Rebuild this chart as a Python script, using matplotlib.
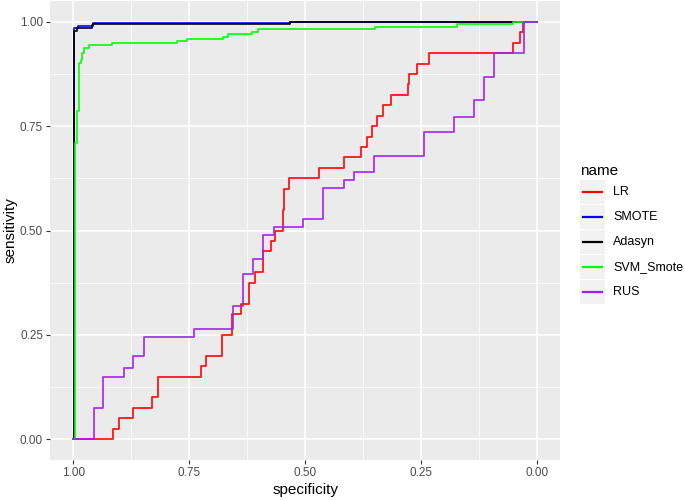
import matplotlib
matplotlib.use("Agg")
import matplotlib.pyplot as plt
from matplotlib.ticker import MultipleLocator
from matplotlib.patches import Rectangle
from matplotlib.lines import Line2D

plt.rcParams["font.family"] = ["Liberation Sans", "DejaVu Sans"]

# ROC curves (specificity, sensitivity), step "post"
lr_spec = [1.0, 0.914, 0.901, 0.871, 0.830, 0.817, 0.724, 0.713, 0.679, 0.657,
           0.638, 0.621, 0.608, 0.591, 0.573, 0.565, 0.547, 0.545, 0.534, 0.470,
           0.416, 0.379, 0.366, 0.356, 0.345, 0.332, 0.315, 0.278, 0.276, 0.259,
           0.233, 0.052, 0.037, 0.030, 0.0]
lr_sens = [0.0, 0.025, 0.05, 0.075, 0.1, 0.15, 0.175, 0.2, 0.25, 0.3,
           0.325, 0.375, 0.4, 0.45, 0.475, 0.5, 0.55, 0.6, 0.625, 0.65,
           0.675, 0.7, 0.725, 0.75, 0.775, 0.8, 0.825, 0.85, 0.875, 0.9,
           0.925, 0.95, 0.975, 1.0, 1.0]

smote_spec = [1.0, 0.998, 0.989, 0.957, 0.532, 0.0]
smote_sens = [0.0, 0.985, 0.990, 0.997, 1.0, 1.0]

adasyn_spec = [1.0, 0.998, 0.991, 0.959, 0.957, 0.532, 0.0]
adasyn_sens = [0.0, 0.978, 0.985, 0.993, 0.996, 1.0, 1.0]

svm_spec = [1.0, 0.997, 0.991, 0.987, 0.983, 0.981, 0.976, 0.966, 0.916, 0.776,
            0.754, 0.677, 0.666, 0.614, 0.601, 0.349, 0.172, 0.052, 0.0]
svm_sens = [0.0, 0.71, 0.787, 0.902, 0.909, 0.926, 0.938, 0.945, 0.95, 0.954,
            0.959, 0.964, 0.971, 0.976, 0.983, 0.988, 0.995, 1.0, 1.0]

rus_spec = [1.0, 0.955, 0.935, 0.890, 0.871, 0.847, 0.739, 0.655, 0.634, 0.612,
            0.591, 0.567, 0.504, 0.461, 0.416, 0.394, 0.351, 0.244, 0.179, 0.136,
            0.114, 0.093, 0.028, 0.0]
rus_sens = [0.0, 0.075, 0.15, 0.17, 0.2, 0.245, 0.265, 0.32, 0.396, 0.432,
            0.489, 0.508, 0.528, 0.602, 0.621, 0.64, 0.679, 0.736, 0.772, 0.813,
            0.868, 0.925, 1.0, 1.0]

names = ["LR", "SMOTE", "Adasyn", "SVM_Smote", "RUS"]
specs = [lr_spec, smote_spec, adasyn_spec, svm_spec, rus_spec]
senss = [lr_sens, smote_sens, adasyn_sens, svm_sens, rus_sens]
colors = ["#FF0000", "#0000FF", "#000000", "#00FF00", "#A020F0"]

W, H = 685, 500
fig = plt.figure(figsize=(W / 100, H / 100), dpi=100)
ax = fig.add_axes([0.073, 0.08, 0.745, 0.918])
ax.set_facecolor("#EBEBEB")

for i, (nm, sx, sy, c) in enumerate(zip(names, specs, senss, colors)):
    ax.step(sx, sy, where="post", color=c, lw=1.3, zorder=3 + i, alpha=0.9)

ax.set_xlim(1.05, -0.05)
ax.set_ylim(-0.05, 1.05)
ax.set_xticks([1.0, 0.75, 0.5, 0.25, 0.0])
ax.set_yticks([0.0, 0.25, 0.5, 0.75, 1.0])
ax.xaxis.set_minor_locator(MultipleLocator(0.125))
ax.yaxis.set_minor_locator(MultipleLocator(0.125))
fmt = plt.FuncFormatter(lambda v, p: f"{v:.2f}")
ax.xaxis.set_major_formatter(fmt)
ax.yaxis.set_major_formatter(fmt)

ax.grid(which="major", color="white", lw=1.1)
ax.grid(which="minor", color="white", lw=0.5)
ax.set_axisbelow(True)
for s in ax.spines.values():
    s.set_visible(False)
ax.tick_params(which="major", length=3, width=0.8, color="#333333",
               labelcolor="#4D4D4D", labelsize=8.5, pad=2)
ax.tick_params(which="minor", length=0)

ax.set_xlabel("specificity", fontsize=11, labelpad=3)
ax.set_ylabel("sensitivity", fontsize=11, labelpad=2)

# legend drawn like ggplot's: grey keys, title above
fig.text(580 / W, 1 - 171 / H, "name", fontsize=11, va="center", ha="left")
for i, (nm, c) in enumerate(zip(names, colors)):
    yc = 1 - (192 + 25 * i) / H
    fig.add_artist(Rectangle((580 / W, yc - 12 / H), 25 / W, 24 / H,
                             transform=fig.transFigure, facecolor="#F2F2F2",
                             edgecolor="none"))
    fig.add_artist(Line2D([583 / W, 602 / W], [yc, yc], transform=fig.transFigure,
                          color=c, lw=1.6))
    fig.text(613 / W, yc, nm, fontsize=9, va="center", ha="left")

fig.savefig("out.png", dpi=100)
